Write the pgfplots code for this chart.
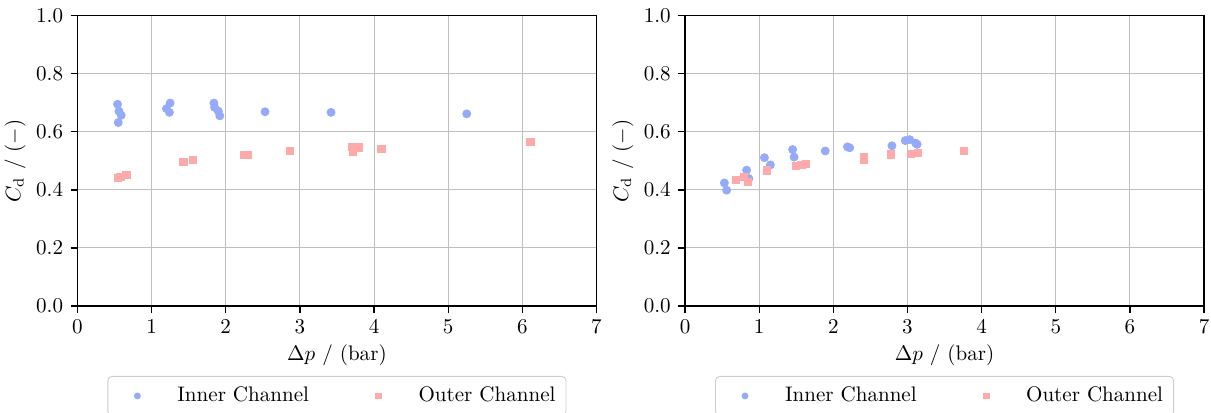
\documentclass[border=0pt]{standalone}
\usepackage{pgfplots}
\pgfplotsset{compat=1.18}

\definecolor{innerc}{RGB}{150,170,250}
\definecolor{outerc}{RGB}{255,170,170}

\pgfplotsset{
  cdstyle/.style={
    scale only axis,
    width=246.5pt, height=137.9pt,
    xmin=0, xmax=7, ymin=0, ymax=1,
    xtick={0,1,...,7},
    ytick={0,0.2,0.4,0.6,0.8,1.0},
    yticklabel style={/pgf/number format/.cd, fixed, fixed zerofill, precision=1},
    tick align=outside,
    xtick pos=left, ytick pos=left,
    major tick length=3.3pt,
    tick style={black, line width=0.6pt},
    axis line style={black, line width=0.7pt},
    grid=major,
    major grid style={black!25, line width=0.5pt},
    xlabel={$\Delta p$ / (bar)},
    ylabel={$C_\mathrm{d}$ / $(-)$},
    xlabel style={at={(axis description cs:0.5,-0.169)}, anchor=center},
    ylabel style={at={(axis description cs:-0.12,0.5)}, anchor=center},
    legend columns=2,
    legend style={at={(0.5,-0.241)}, anchor=north, draw=black!20,
      rounded corners=2pt, fill=white, inner sep=3pt,
      /tikz/every even column/.append style={column sep=20pt}},
    legend cell align=left,
    legend image code/.code={
      \path[draw=none] (0pt,0pt) -- (28pt,0pt);
      \path[#1, draw=none, mark size=1.4pt] plot[only marks] coordinates {(11pt,0pt)};
    },
  },
  innerp/.style={only marks, mark=*, mark size=1.9pt, color=innerc, mark options={draw=innerc, fill=innerc}},
  outerp/.style={only marks, mark=square*, mark size=1.7pt, color=outerc, mark options={draw=outerc, fill=outerc}},
}

\begin{document}
\begin{tikzpicture}
\begin{axis}[cdstyle]
\addplot[innerp] coordinates {
  (0.54,0.695) (0.56,0.671) (0.59,0.657) (0.55,0.632)
  (1.25,0.699) (1.20,0.680) (1.24,0.667)
  (1.84,0.699) (1.85,0.684) (1.90,0.671) (1.92,0.655)
  (2.53,0.669) (3.42,0.667) (5.25,0.662)};
\addplot[outerp] coordinates {
  (0.54,0.442) (0.58,0.445) (0.66,0.451)
  (1.43,0.496) (1.56,0.502)
  (2.24,0.519) (2.30,0.521) (2.87,0.535)
  (3.70,0.549) (3.72,0.532) (3.79,0.546) (4.10,0.542)
  (6.11,0.566)};
\legend{Inner Channel, Outer Channel}
\end{axis}

\begin{axis}[cdstyle, at={(288.6pt,0pt)}, anchor=south west]
\addplot[innerp] coordinates {
  (0.53,0.424) (0.56,0.399) (0.83,0.468) (0.86,0.439)
  (1.07,0.511) (1.15,0.486) (1.45,0.539) (1.47,0.513)
  (1.89,0.534) (2.19,0.548) (2.22,0.545) (2.79,0.552)
  (2.97,0.570) (3.03,0.573) (3.11,0.561) (3.13,0.557)};
\addplot[outerp] coordinates {
  (0.68,0.435) (0.79,0.445) (0.85,0.427) (1.10,0.467)
  (1.50,0.482) (1.57,0.486) (1.63,0.490)
  (2.41,0.512) (2.41,0.503) (2.78,0.522)
  (3.05,0.524) (3.14,0.527) (3.76,0.533)};
\legend{Inner Channel, Outer Channel}
\end{axis}

\pgfresetboundingbox
\path[use as bounding box] (-36.8pt,-50.35pt) rectangle (538.4pt,145.35pt);
\end{tikzpicture}
\end{document}
